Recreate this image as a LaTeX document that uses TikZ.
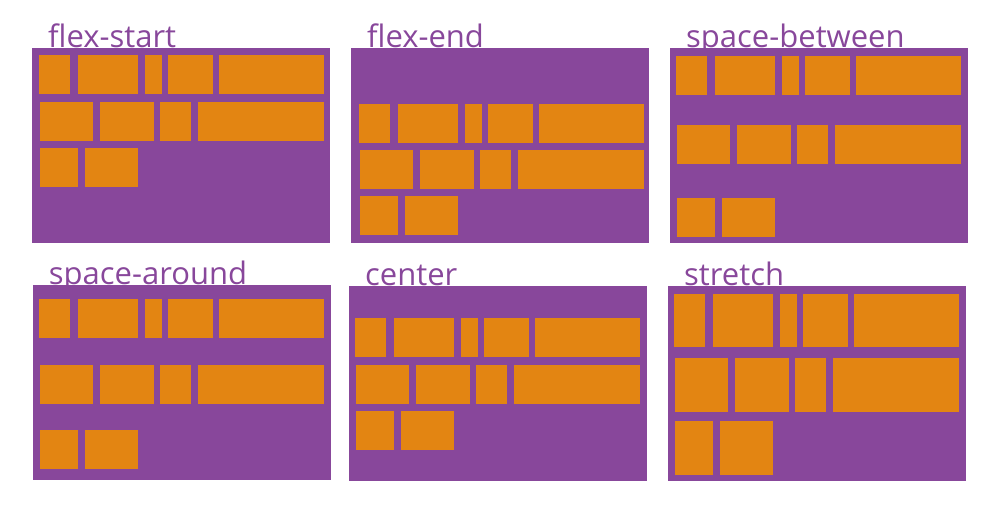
\documentclass[tikz,border=0pt]{standalone}
\usepackage{fontspec}
\setmainfont{Open Sans}
\definecolor{panelpurple}{HTML}{88479B}
\definecolor{boxorange}{HTML}{E38512}
\tikzset{
  panel/.style={fill=panelpurple},
  item/.style={fill=boxorange},
  title/.style={text=panelpurple, anchor=base west, inner sep=0pt, font=\fontsize{31}{31}\selectfont}
}
% #1 left, #2 top, #3 dx, #4 y1, #5 y2, #6 y3, #7 row height, #8 title, #9 name
\newcommand\flexpanel[9]{%
  \begin{scope}[shift={(#1,#2)}]
    \node[title] (title#9) at (16,0.3) {#8};
    \fill[panel] (0,0) rectangle (298,195.5);
    \begin{scope}[xshift=#3]
      \foreach \a/\b in {7/38,46/106,113/130,136/181,187/292}
        \fill[item] (\a,#4) rectangle (\b,{#4+#7});
      \foreach \a/\b in {8/61,68/121.7,128/158.7,165.7/292}
        \fill[item] (\a,#5) rectangle (\b,{#5+#7});
      \foreach \a/\b in {8/46,53/106}
        \fill[item] (\a,#6) rectangle (\b,{#6+#7});
    \end{scope}
  \end{scope}}
\begin{document}
\begin{tikzpicture}[x=1pt,y=-1pt]
  \useasboundingbox (0,0) rectangle (1005,505);
  \flexpanel{32}{47.7}{0}{7.3}{54.3}{100}{39}{flex-start}{a}
  \flexpanel{351}{47.7}{1.3}{56}{102.6}{148.6}{39}{flex-end}{b}
  \flexpanel{670}{47.7}{-1}{8.3}{77.3}{150.3}{39}{space-between}{c}
  \flexpanel{32.7}{284.7}{-0.4}{14}{80.6}{145.6}{39}{space-around}{d}
  \flexpanel{349}{285.7}{-0.7}{32.3}{79.3}{125.3}{39}{center}{e}
  \flexpanel{668}{285.7}{-0.7}{8}{72.6}{135.6}{53.3}{stretch}{f}
\end{tikzpicture}
\end{document}
